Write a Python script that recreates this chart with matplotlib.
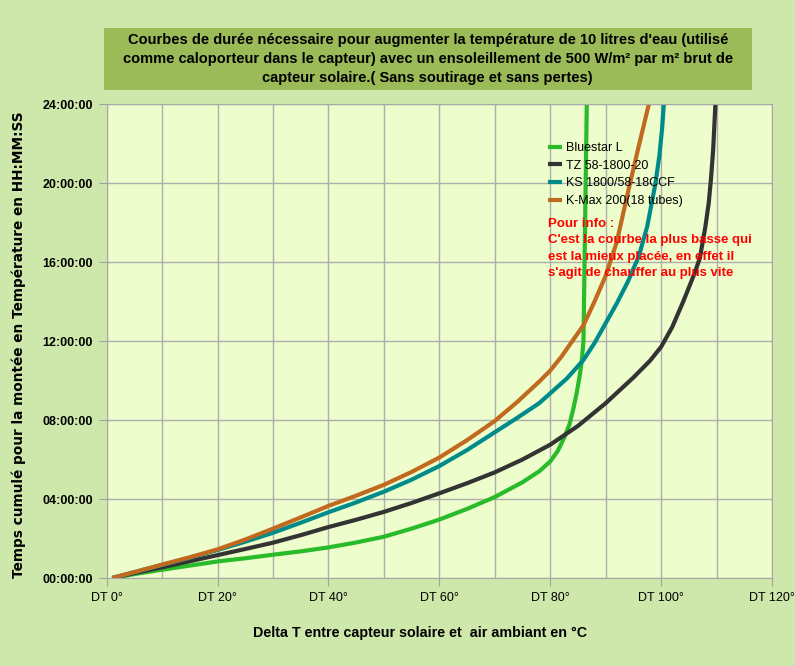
import numpy as np
import matplotlib
matplotlib.use('Agg')
import matplotlib.pyplot as plt
from matplotlib.ticker import FixedLocator, FuncFormatter
from matplotlib.patches import Rectangle

# data: delta T (deg C) -> cumulated time (hours)
bluestar_dt = [1, 5, 10, 15, 20, 25, 30, 35, 40, 45, 50, 55, 60, 65, 70, 75, 78, 80, 81.4, 82.6,
               83.5, 84.2, 84.8, 85.3, 85.7, 86.0, 86.1, 86.2, 86.4, 86.6]
bluestar_h = [0, 0.2, 0.42, 0.63, 0.84, 1.0, 1.18, 1.35, 1.55, 1.8, 2.09, 2.5, 2.96, 3.5, 4.1, 4.85,
              5.4, 5.9, 6.45, 7.15, 7.8, 8.6, 9.4, 10.2, 11.0, 12.0, 14.0, 16.0, 20.0, 24.0]

tz_dt = [1, 5, 10, 15, 20, 25, 30, 35, 40, 45, 50, 55, 60, 65, 70, 75, 80, 85, 90, 95, 98, 100,
         102, 104, 105, 106, 107, 108, 108.6, 109.0, 109.4, 109.8]
tz_h = [0, 0.25, 0.54, 0.85, 1.16, 1.47, 1.79, 2.17, 2.58, 2.95, 3.35, 3.8, 4.29, 4.8, 5.35, 6.0,
        6.75, 7.7, 8.85, 10.15, 11.0, 11.7, 12.7, 14.0, 14.7, 15.4, 16.2, 17.8, 19.0, 20.2, 21.7, 24.0]

ks_dt = [1, 5, 10, 15, 20, 25, 30, 35, 40, 45, 50, 55, 60, 65, 70, 74, 78, 80, 83, 86, 88, 90, 92,
         94, 96, 97.5, 99, 99.7, 100.2, 100.5]
ks_h = [0, 0.3, 0.66, 1.03, 1.42, 1.84, 2.29, 2.8, 3.33, 3.83, 4.37, 4.98, 5.67, 6.48, 7.38, 8.1,
        8.85, 9.35, 10.1, 11.04, 11.9, 12.9, 13.9, 15.0, 16.3, 17.8, 20.0, 21.4, 22.8, 24.0]

kmax_dt = [1, 5, 10, 15, 20, 25, 30, 35, 40, 45, 50, 55, 60, 65, 70, 74, 78, 80, 82, 84, 86, 88,
           90, 92, 94, 96, 97.8]
kmax_h = [0, 0.3, 0.68, 1.05, 1.45, 1.95, 2.5, 3.07, 3.65, 4.17, 4.72, 5.37, 6.1, 6.98, 7.95, 8.9,
          9.94, 10.5, 11.2, 12.0, 12.8, 14.0, 15.3, 17.0, 19.5, 21.9, 24.0]

series_names = ['Bluestar L', 'TZ 58-1800-20', 'KS 1800/58-18CCF', 'K-Max 200(18 tubes)']
series_colors = ['#2abb2a', '#333333', '#008b8b', '#c0691f']

title = ("Courbes de durée nécessaire pour augmenter la température de 10 litres d'eau (utilisé\n"
         "comme caloporteur dans le capteur) avec un ensoleillement de 500 W/m² par m² brut de\n"
         "capteur solaire.( Sans soutirage et sans pertes)")
note = ("Pour info :\nC'est la courbe la plus basse qui\n"
        "est la mieux placée, en effet il\ns'agit de chauffer au plus vite")

arial = ['Liberation Sans', 'DejaVu Sans']

fig = plt.figure(figsize=(7.95, 6.66), dpi=100)
fig.patch.set_facecolor('#cde8aa')
ax = fig.add_axes([0.1342, 0.1321, 0.8368, 0.7117])
ax.set_facecolor('#edfdcb')

data = [(bluestar_dt, bluestar_h), (tz_dt, tz_h), (ks_dt, ks_h), (kmax_dt, kmax_h)]
for (dt, h), name, col in zip(data, series_names, series_colors):
    ax.plot(dt, h, color=col, lw=3, label=name, solid_capstyle='butt', solid_joinstyle='round')

ax.set_xlim(0, 120)
ax.set_ylim(0, 24)
ax.xaxis.set_major_locator(FixedLocator(range(0, 121, 20)))
ax.xaxis.set_minor_locator(FixedLocator(range(10, 120, 20)))
ax.yaxis.set_major_locator(FixedLocator(range(0, 25, 4)))
ax.xaxis.set_major_formatter(FuncFormatter(lambda v, p: 'DT %d°' % v))
ax.yaxis.set_major_formatter(FuncFormatter(lambda v, p: '%02d:00:00' % v))
ax.grid(True, which='both', color='#adadad', lw=1)
ax.set_axisbelow(True)
ax.tick_params(axis='both', which='major', length=6, color='#a0a0a0', pad=4)
ax.tick_params(axis='x', which='minor', length=0)
for s in ax.spines.values():
    s.set_color('#a8a8a8')
for t in ax.get_xticklabels():
    t.set_fontfamily(arial)
    t.set_fontsize(9)
for t in ax.get_yticklabels():
    t.set_fontfamily(arial)
    t.set_fontsize(9)
    t.set_fontweight('bold')

fig.text(0.528, 0.05, 'Delta T entre capteur solaire et  air ambiant en °C', ha='center', va='center',
         fontsize=10.3, fontweight='bold', family=arial)
fig.text(0.023, 0.483, 'Temps cumulé pour la montée en Température en HH:MM:SS', rotation=90,
         ha='center', va='center', fontsize=9.8, fontweight='bold', family=['DejaVu Sans'])

# title box
fig.patches.append(Rectangle((0.131, 0.865), 0.815, 0.093, transform=fig.transFigure,
                             facecolor='#9bbb59', edgecolor='none'))
fig.text(0.538, 0.911, title, ha='center', va='center', fontsize=10.5, fontweight='bold',
         family=arial, linespacing=1.45)

ax.legend(loc='upper left', bbox_to_anchor=(0.656, 0.93), frameon=False,
          handlelength=1.1, handletextpad=0.3, labelspacing=0.45, borderaxespad=0,
          prop={'family': arial, 'size': 9})
ax.text(0.663, 0.76, note, transform=ax.transAxes, ha='left', va='top', color='#ff0000',
        fontsize=9.5, fontweight='bold', family=arial, linespacing=1.5)

fig.savefig('out.png', dpi=100, facecolor=fig.get_facecolor())
